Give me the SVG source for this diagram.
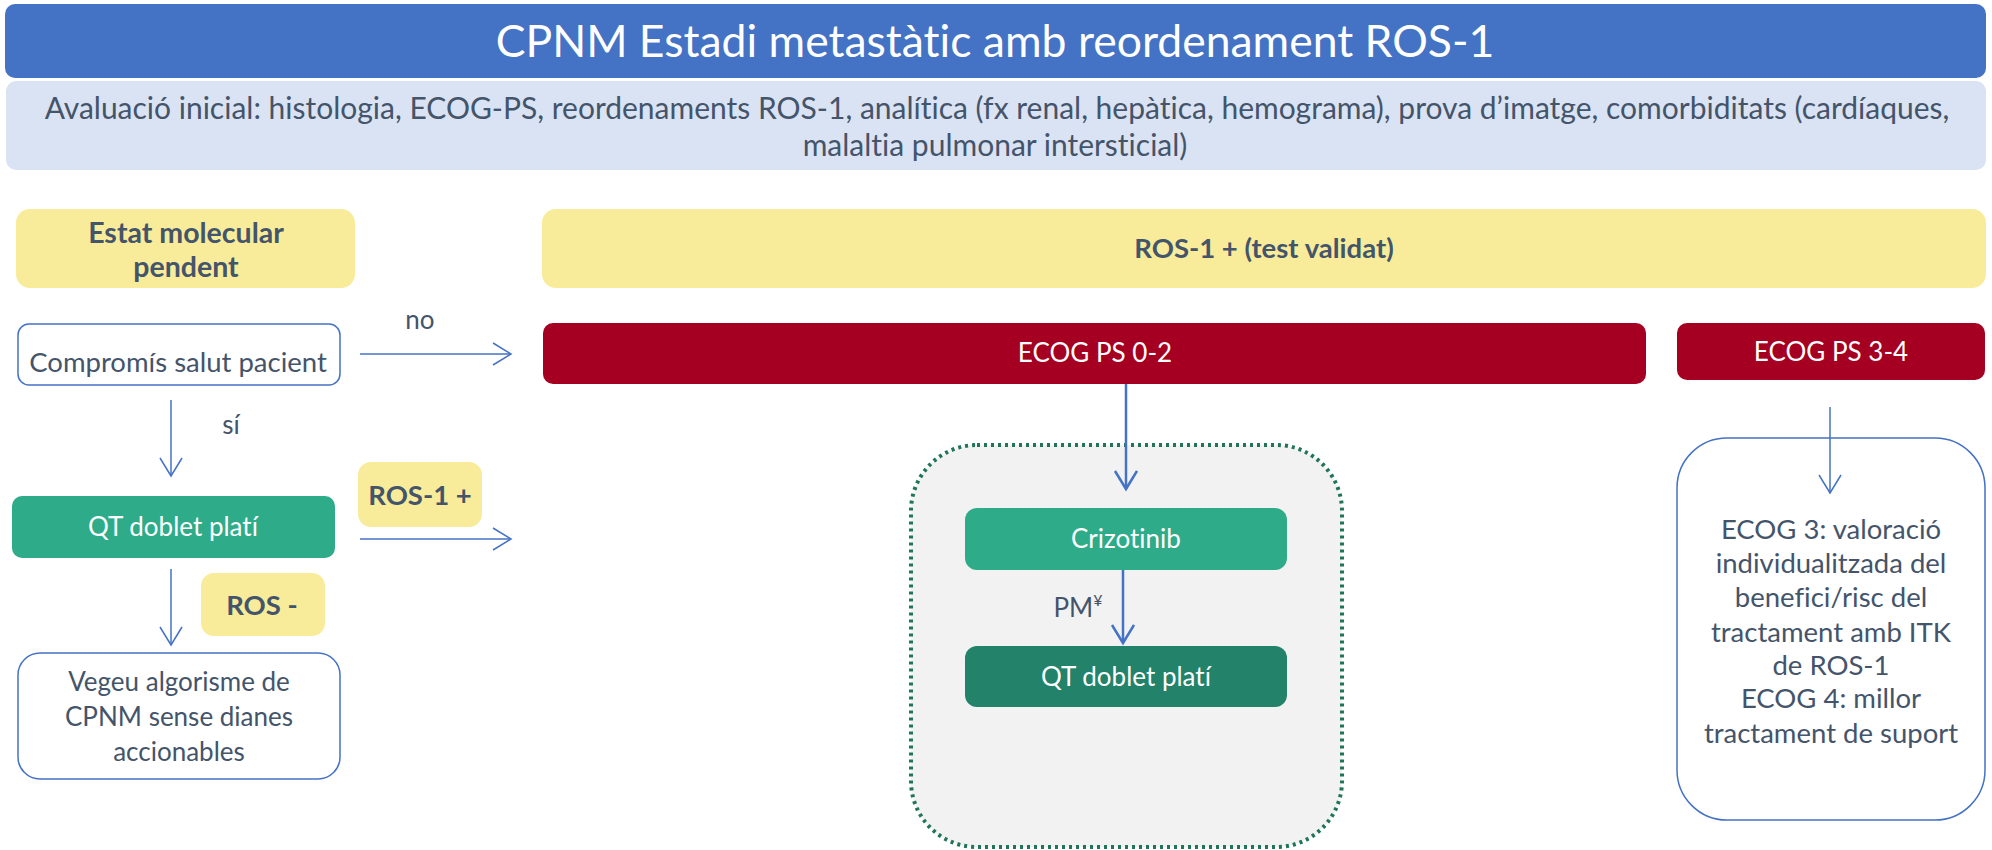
<svg xmlns="http://www.w3.org/2000/svg" width="1992" height="850" viewBox="0 0 1992 850">
<defs>
<style>
text{font-family:Lato,"Liberation Sans",sans-serif;text-anchor:middle;fill:#44546A;font-size:26px;font-variant-ligatures:none;font-feature-settings:"liga" 0,"dlig" 0}
.w{fill:#fff}
.b{font-weight:bold}
.yel{fill:#F8EC9A}
.red{fill:#A50021}
.grn{fill:#2EAB88}
.dgr{fill:#22826A}
.wb{fill:#fff;stroke:#4472C4;stroke-width:1.5}
.c1{stroke:#4472C4;stroke-width:1.5;fill:none}
.c2{stroke:#4472C4;stroke-width:2.5;fill:none}
.r{font-size:27.5px}
</style>
<marker id="a1" markerUnits="userSpaceOnUse" markerWidth="22" markerHeight="26" refX="19" refY="12" orient="auto" viewBox="0 0 22 26">
<path d="M1,1 L19,12 L1,23" fill="none" stroke="#4472C4" stroke-width="1.5"/>
</marker>
<marker id="a2" markerUnits="userSpaceOnUse" markerWidth="22" markerHeight="28" refX="19" refY="12" orient="auto" viewBox="0 0 22 28">
<path d="M1,1 L19,12 L1,23" fill="none" stroke="#4472C4" stroke-width="2.5"/>
</marker>
</defs>
<rect width="1992" height="850" fill="#fff"/>

<g id="title">
<rect x="5" y="4" width="1981" height="74" rx="10" fill="#4472C4"/>
<text class="w" x="995" y="57" style="font-size:44.5px">CPNM Estadi metastàtic amb reordenament ROS-1</text>
</g>
<g id="avaluacio">
<rect x="6" y="81" width="1980" height="89" rx="10" fill="#DAE3F3"/>
<text x="997" y="119" style="font-size:30px">Avaluació inicial: histologia, ECOG-PS, reordenaments ROS-1, analítica (fx renal, hepàtica, hemograma), prova d’imatge, comorbiditats (cardíaques,</text>
<text x="995" y="156" style="font-size:30px">malaltia pulmonar intersticial)</text>
</g>

<g id="estat">
<rect class="yel" x="16" y="209" width="339" height="79" rx="14"/>
<text class="b" x="186" y="243" style="font-size:28.5px">Estat molecular</text>
<text class="b" x="186" y="277" style="font-size:28.5px">pendent</text>
</g>
<g id="compromis">
<rect class="wb" x="18" y="324" width="322" height="61" rx="11"/>
<text class="r" x="178" y="372">Compromís salut pacient</text>
</g>
<g id="qt1">
<rect class="grn" x="12" y="496" width="323" height="62" rx="10"/>
<text class="w" x="173" y="536">QT doblet platí</text>
</g>
<g id="rosplus">
<rect class="yel" x="358" y="462" width="124" height="65" rx="13"/>
<text class="b" x="420" y="505" style="font-size:27.5px">ROS-1 +</text>
</g>
<g id="rosminus">
<rect class="yel" x="201" y="573" width="124" height="63" rx="13"/>
<text class="b" x="262" y="615" style="font-size:27.5px">ROS -</text>
</g>
<g id="vegeu">
<rect class="wb" x="18" y="653" width="322" height="126" rx="22"/>
<text x="179" y="691">Vegeu algorisme de</text>
<text x="179" y="726">CPNM sense dianes</text>
<text x="179" y="761">accionables</text>
</g>

<g id="ros1test">
<rect class="yel" x="542" y="209" width="1444" height="79" rx="14"/>
<text class="b" x="1264" y="258" style="font-size:27.5px">ROS-1 + (test validat)</text>
</g>
<g id="ecog02">
<rect class="red" x="543" y="323" width="1103" height="61" rx="10"/>
<text class="w" x="1095" y="362">ECOG PS 0-2</text>
</g>
<g id="ecog34">
<rect class="red" x="1677" y="323" width="308" height="57" rx="10"/>
<text class="w" x="1831" y="361">ECOG PS 3-4</text>
</g>

<g id="contenidor">
<rect x="911" y="445" width="431" height="402" rx="66" fill="#F2F2F2" stroke="#1F7558" stroke-width="4" stroke-dasharray="3 4"/>
</g>
<g id="crizotinib">
<rect class="grn" x="965" y="508" width="322" height="62" rx="12"/>
<text class="w" x="1126" y="548">Crizotinib</text>
</g>
<g id="qt2">
<rect class="dgr" x="965" y="646" width="322" height="61" rx="12"/>
<text class="w" x="1126" y="686">QT doblet platí</text>
</g>

<g id="ecog34text">
<rect class="wb" x="1677" y="438" width="308" height="382" rx="50"/>
<text class="r" x="1831" y="539">ECOG 3: valoració</text>
<text class="r" x="1831" y="573">individualitzada del</text>
<text class="r" x="1831" y="607">benefici/risc del</text>
<text class="r" x="1831" y="642">tractament amb ITK</text>
<text class="r" x="1831" y="675">de ROS-1</text>
<text class="r" x="1831" y="708">ECOG 4: millor</text>
<text class="r" x="1831" y="743">tractament de suport</text>
</g>

<g id="connectors">
<line class="c1" x1="360" y1="354" x2="511" y2="354" marker-end="url(#a1)"/>
<text x="420" y="329">no</text>
<line class="c1" x1="171" y1="400" x2="171" y2="476" marker-end="url(#a1)"/>
<text x="231" y="434">sí</text>
<line class="c1" x1="360" y1="539" x2="511" y2="539" marker-end="url(#a1)"/>
<line class="c1" x1="171" y1="569" x2="171" y2="645" marker-end="url(#a1)"/>
<line class="c2" x1="1126" y1="384" x2="1126" y2="489" marker-end="url(#a2)"/>
<line class="c2" x1="1123" y1="570" x2="1123" y2="643" marker-end="url(#a2)"/>
<text x="1078" y="617">PM<tspan style="font-size:16px" dy="-11">¥</tspan></text>
<line class="c1" x1="1830" y1="407" x2="1830" y2="493" marker-end="url(#a1)"/>
</g>
</svg>
